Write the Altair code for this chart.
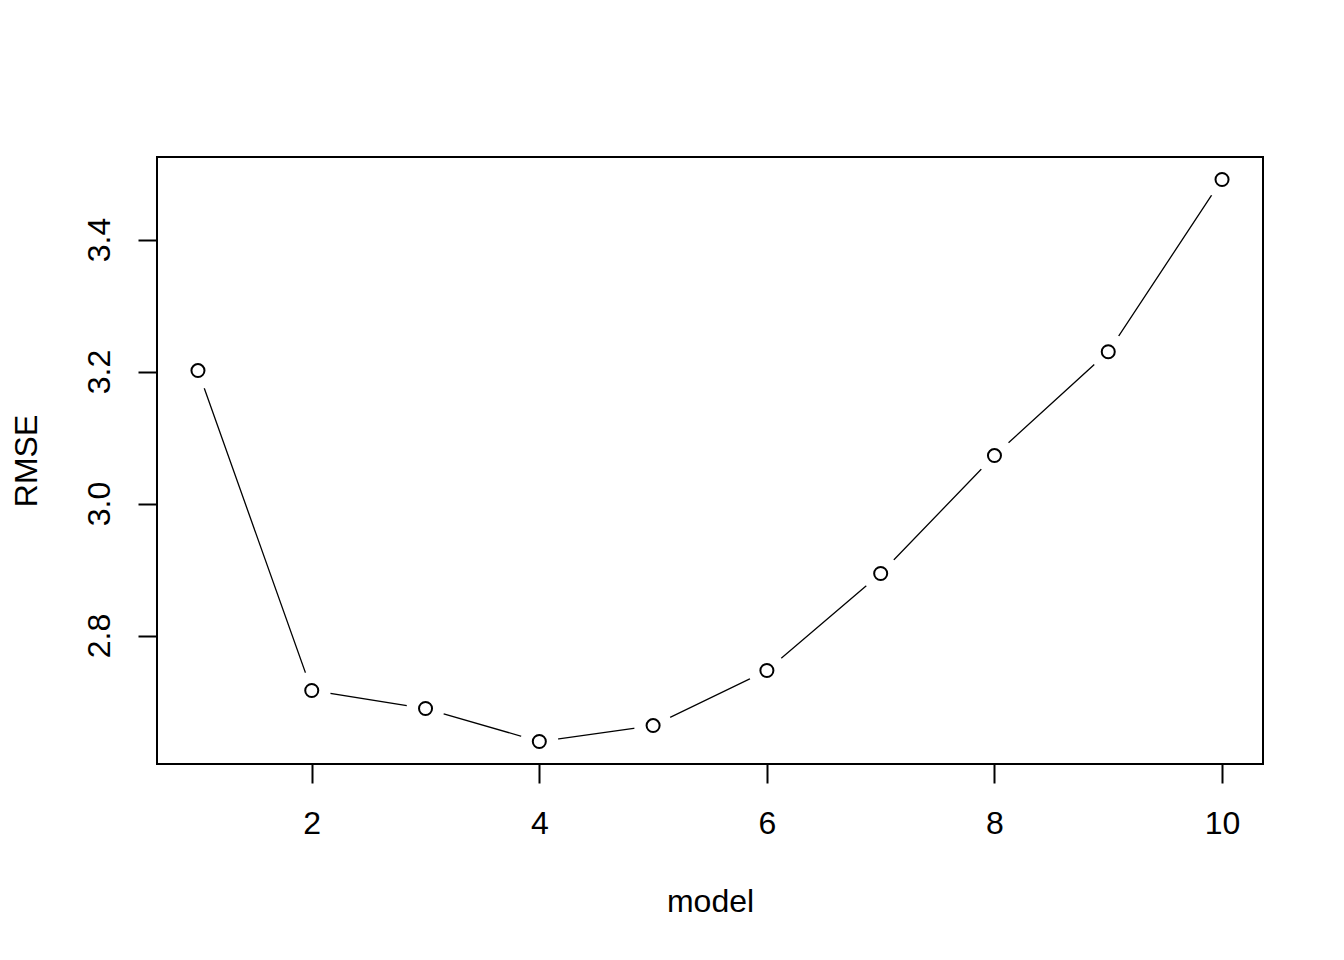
import altair as alt
import pandas as pd

model = [1, 2, 3, 4, 5, 6, 7, 8, 9, 10]
rmse = [3.2015, 2.7167, 2.6894, 2.6394, 2.6636, 2.7470, 2.8940, 3.0727, 3.2300, 3.4910]
x_ticks = [2, 4, 6, 8, 10]
y_ticks = [2.8, 3.0, 3.2, 3.4]

df = pd.DataFrame({"model": model, "RMSE": rmse})

def ext(vals):
    lo, hi = min(vals), max(vals)
    d = (hi - lo) * 0.04
    return [lo - d, hi + d]

FONT = "Liberation Sans"

x = alt.X("model:Q", scale=alt.Scale(domain=ext(model), nice=False, zero=False),
          axis=alt.Axis(values=x_ticks, title="model", grid=False, domain=False,
                        tickSize=19, tickWidth=2, tickColor="black",
                        labelFontSize=32, labelFont=FONT, labelColor="black",
                        labelPadding=25, titleFontSize=32, titleFont=FONT,
                        titleFontWeight="normal", titleColor="black", titlePadding=47))
y = alt.Y("RMSE:Q", scale=alt.Scale(domain=ext(rmse), nice=False, zero=False),
          axis=alt.Axis(values=y_ticks, format=".1f", title="RMSE", grid=False, domain=False,
                        tickSize=19, tickWidth=2, tickColor="black",
                        labelFontSize=32, labelFont=FONT, labelColor="black",
                        labelAngle=270, labelAlign="center", labelBaseline="bottom",
                        labelPadding=22, titleFontSize=32, titleFont=FONT,
                        titleFontWeight="normal", titleColor="black", titlePadding=40))

base = alt.Chart(df).encode(x=x, y=y)
line = base.mark_line(color="black", strokeWidth=1.3)
gap = base.mark_point(shape="circle", filled=True, color="white", opacity=1, size=1444)
pts = base.mark_point(shape="circle", filled=False, color="black", strokeWidth=2, size=170, opacity=1)

chart = (line + gap + pts).properties(
    width=1106, height=607,
    padding={"left": 149, "top": 149, "right": 70, "bottom": 180},
    autosize=alt.AutoSizeParams(type="none"),
    background="white",
).configure_view(stroke="black", strokeWidth=2)

chart.save("out.html", embed_options={"renderer": "svg", "actions": False})
